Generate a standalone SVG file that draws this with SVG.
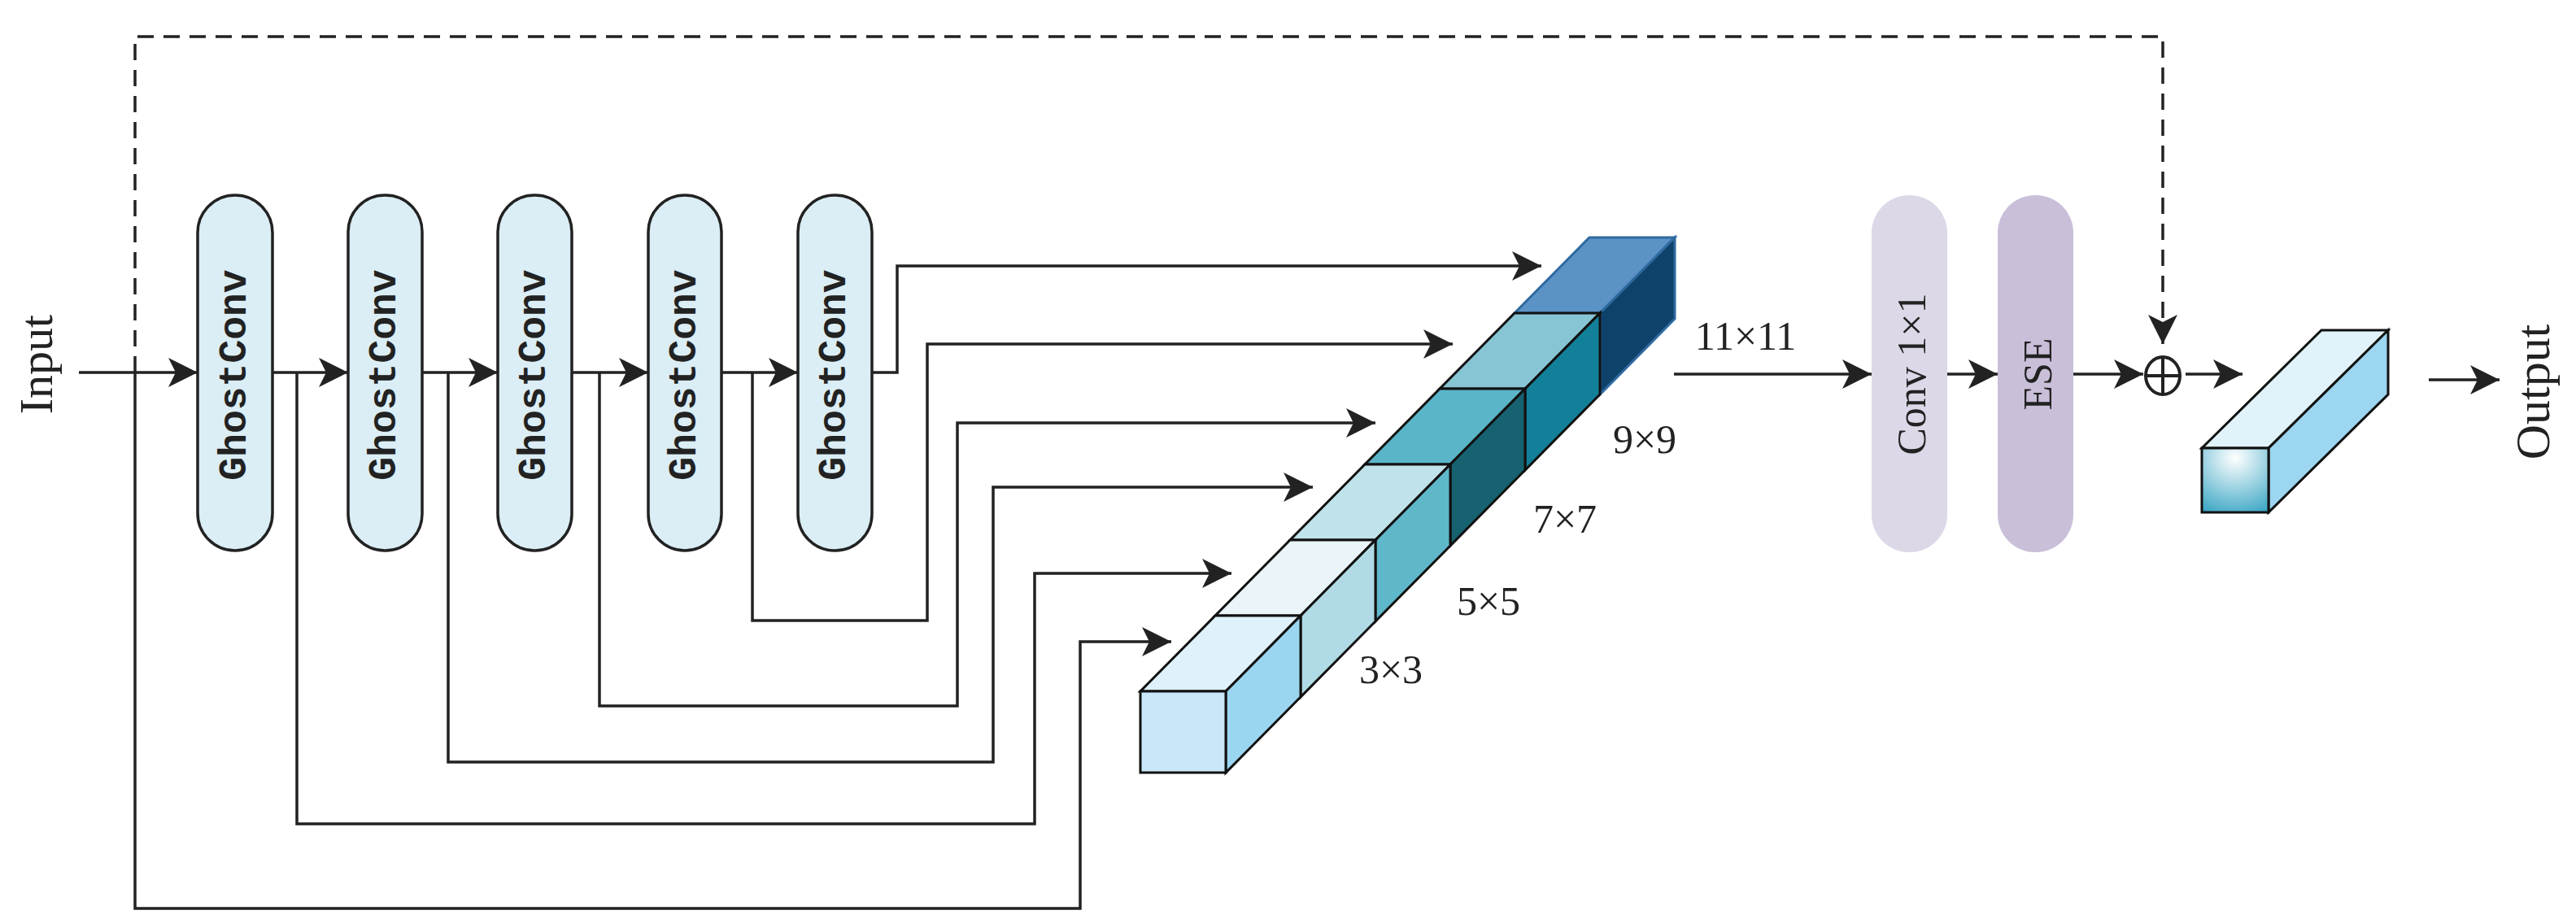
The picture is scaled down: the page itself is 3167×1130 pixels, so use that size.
<svg xmlns="http://www.w3.org/2000/svg" width="3167" height="1130" viewBox="0 0 3167 1130">
<style>
.ln{fill:none;stroke:#222;stroke-width:3.5}
.ds{fill:none;stroke:#222;stroke-width:3.5;stroke-dasharray:20 12}
.gc{fill:#dbeef5;stroke:#222;stroke-width:3.5}
.mono{font-family:"Liberation Mono",monospace;font-size:48px;fill:#222;font-weight:bold}
.ser{font-family:"Liberation Serif",serif;fill:#222}
.cb{stroke:#111;stroke-width:3}
</style>
<defs>
<marker id="ah" viewBox="0 0 36 36" refX="36" refY="18" markerWidth="36" markerHeight="36" markerUnits="userSpaceOnUse" orient="auto"><path d="M0,0 L36,18 L0,36 L9,18 Z" fill="#222"/></marker>
<radialGradient id="fg" cx="0.5" cy="0.15" r="0.95"><stop offset="0" stop-color="#ffffff"/><stop offset="1" stop-color="#3aa6c4"/></radialGradient>
</defs>
<text class="ser" font-size="58" transform="translate(64,448) rotate(-90)" text-anchor="middle">Input</text>
<text class="ser" font-size="60" transform="translate(3134,482) rotate(-90)" text-anchor="middle">Output</text>
<g id="connectors">
<path class="ds" d="M166,458 V45 H2659 V423" marker-end="url(#ah)"/>
<path class="ln" d="M97,458 H243" marker-end="url(#ah)"/>
<path class="ln" d="M335,458 H428" marker-end="url(#ah)"/>
<path class="ln" d="M519,458 H612" marker-end="url(#ah)"/>
<path class="ln" d="M703,458 H797" marker-end="url(#ah)"/>
<path class="ln" d="M887,458 H981" marker-end="url(#ah)"/>
<path class="ln" d="M166,458 V1117 H1328 V789 H1440" marker-end="url(#ah)"/>
<path class="ln" d="M365,458 V1013 H1272 V705 H1514" marker-end="url(#ah)"/>
<path class="ln" d="M551,458 V937 H1221 V599 H1614" marker-end="url(#ah)"/>
<path class="ln" d="M737,458 V868 H1177 V520 H1691" marker-end="url(#ah)"/>
<path class="ln" d="M925,458 V763 H1140 V423 H1786" marker-end="url(#ah)"/>
<path class="ln" d="M1072,458 H1103 V327 H1895" marker-end="url(#ah)"/>
<path class="ln" d="M2058,460 H2301" marker-end="url(#ah)"/>
<path class="ln" d="M2394,460 H2456" marker-end="url(#ah)"/>
<path class="ln" d="M2549,460 H2635" marker-end="url(#ah)"/>
<path class="ln" d="M2687,460 H2757" marker-end="url(#ah)"/>
<path class="ln" d="M2986,467 H3073" marker-end="url(#ah)"/>
</g>
<g id="gc1"><rect class="gc" x="243" y="240" width="92" height="437" rx="46"/><text class="mono" transform="translate(289,461) rotate(-90)" text-anchor="middle" dominant-baseline="central">GhostConv</text></g>
<g id="gc2"><rect class="gc" x="428" y="240" width="91" height="437" rx="45"/><text class="mono" transform="translate(473,461) rotate(-90)" text-anchor="middle" dominant-baseline="central">GhostConv</text></g>
<g id="gc3"><rect class="gc" x="612" y="240" width="91" height="437" rx="45"/><text class="mono" transform="translate(657,461) rotate(-90)" text-anchor="middle" dominant-baseline="central">GhostConv</text></g>
<g id="gc4"><rect class="gc" x="797" y="240" width="90" height="437" rx="45"/><text class="mono" transform="translate(842,461) rotate(-90)" text-anchor="middle" dominant-baseline="central">GhostConv</text></g>
<g id="gc5"><rect class="gc" x="981" y="240" width="91" height="437" rx="45"/><text class="mono" transform="translate(1026,461) rotate(-90)" text-anchor="middle" dominant-baseline="central">GhostConv</text></g>
<g id="bar">
<polygon points="1862,385 1967,385 2059,292 1954,292" fill="#5b93c6" stroke="#2f6aa0" stroke-width="3"/>
<polygon points="1967,385 2059,292 2059,392 1967,485" fill="#0f426b" stroke="#2f6aa0" stroke-width="3"/>
<polygon class="cb" points="1770,478 1875,478 1967,385 1862,385" fill="#87c5d4"/>
<polygon class="cb" points="1875,478 1967,385 1967,485 1875,578" fill="#13809a"/>
<polygon class="cb" points="1678,571 1783,571 1875,478 1770,478" fill="#5ab5c9"/>
<polygon class="cb" points="1783,571 1875,478 1875,578 1783,671" fill="#176270"/>
<polygon class="cb" points="1586,664 1691,664 1783,571 1678,571" fill="#c0e2ea"/>
<polygon class="cb" points="1691,664 1783,571 1783,671 1691,764" fill="#5fb8c9"/>
<polygon class="cb" points="1494,757 1599,757 1691,664 1586,664" fill="#e9f5f8"/>
<polygon class="cb" points="1599,757 1691,664 1691,764 1599,857" fill="#b0dbe6"/>
<polygon class="cb" points="1402,850 1507,850 1599,757 1494,757" fill="#dff1fb"/>
<polygon class="cb" points="1507,850 1599,757 1599,857 1507,950" fill="#9bd6f0"/>
<rect class="cb" x="1402" y="850" width="105" height="100" fill="#c9e7f8"/>
</g>
<g id="labels" class="ser" font-size="50">
<text x="1710" y="840" text-anchor="middle">3×3</text>
<text x="1830" y="756" text-anchor="middle">5×5</text>
<text x="1924" y="655" text-anchor="middle">7×7</text>
<text x="2022" y="557" text-anchor="middle">9×9</text>
<text x="2146" y="430" text-anchor="middle">11×11</text>
</g>
<g id="conv"><rect x="2301" y="240" width="93" height="439" rx="46" fill="#ddd8e8"/><text class="ser" font-size="50" transform="translate(2350,460) rotate(-90)" text-anchor="middle" dominant-baseline="central">Conv  1×1</text></g>
<g id="ese"><rect x="2456" y="240" width="93" height="439" rx="46" fill="#c9bfd9"/><text class="ser" font-size="50" transform="translate(2505,460) rotate(-90)" text-anchor="middle" dominant-baseline="central">ESE</text></g>
<g id="add"><ellipse cx="2659" cy="462" rx="21" ry="23" fill="none" stroke="#222" stroke-width="4"/><path d="M2638,462 H2680 M2659,439 V485" stroke="#222" stroke-width="4"/></g>
<g id="out">
<polygon class="cb" points="2707,551 2789,551 2936,406 2854,406" fill="#e0f3fb"/>
<polygon class="cb" points="2789,551 2936,406 2936,485 2789,630" fill="#9cd6f0"/>
<rect class="cb" x="2707" y="551" width="82" height="79" fill="url(#fg)"/>
</g>
</svg>
